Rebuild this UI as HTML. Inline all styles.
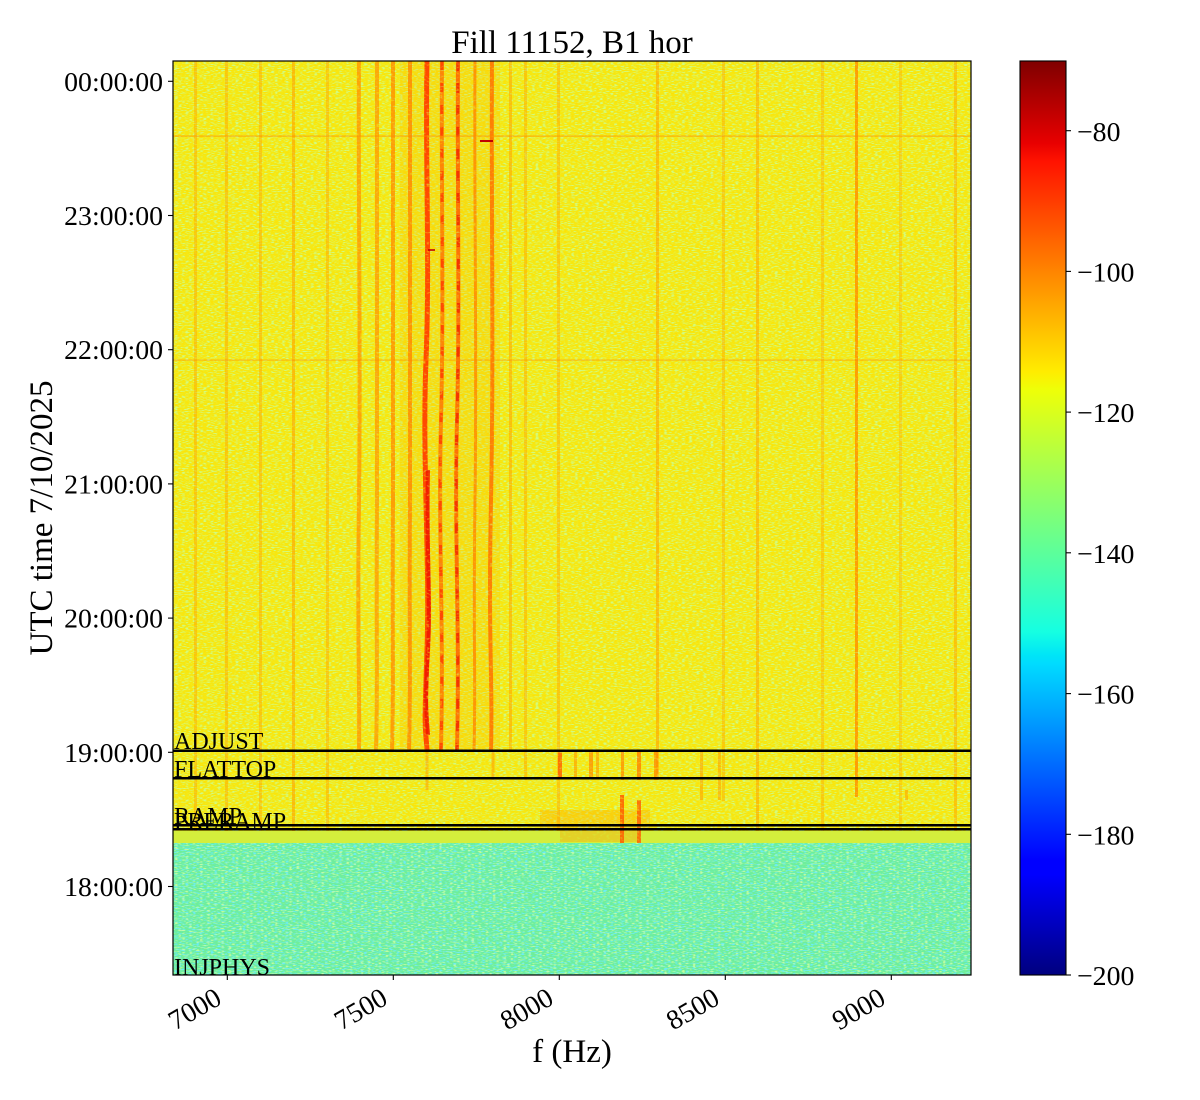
<!DOCTYPE html>
<html>
<head>
<meta charset="utf-8">
<style>
  html, body { margin: 0; padding: 0; background: #ffffff; }
  svg { display: block; }
  text { font-family: "Liberation Serif", "DejaVu Serif", serif; fill: #000; }
</style>
</head>
<body>
<svg width="1200" height="1100" viewBox="0 0 1200 1100" xmlns="http://www.w3.org/2000/svg">
  <defs>
    <clipPath id="plotclip"><rect x="173" y="61" width="798" height="914"/></clipPath>
    <filter id="ng" filterUnits="userSpaceOnUse" x="173" y="61" width="798" height="770">
      <feTurbulence type="fractalNoise" baseFrequency="0.28 0.95" numOctaves="1" seed="3"/>
      <feColorMatrix type="matrix" values="0 0 0 0 0.6  0 0 0 0 1  0 0 0 0 0.3  6 0 0 0 -2.95"/>
    </filter>
    <filter id="no" filterUnits="userSpaceOnUse" x="173" y="61" width="798" height="770">
      <feTurbulence type="fractalNoise" baseFrequency="0.28 0.95" numOctaves="1" seed="11"/>
      <feColorMatrix type="matrix" values="0 0 0 0 1  0 0 0 0 0.75  0 0 0 0 0  6 0 0 0 -3.3"/>
    </filter>
    <filter id="nc" filterUnits="userSpaceOnUse" x="173" y="843" width="798" height="132">
      <feTurbulence type="fractalNoise" baseFrequency="0.28 0.95" numOctaves="1" seed="5"/>
      <feColorMatrix type="matrix" values="0 0 0 0 0.15  0 0 0 0 0.85  0 0 0 0 1  6 0 0 0 -3.0"/>
    </filter>
    <filter id="nl" filterUnits="userSpaceOnUse" x="173" y="843" width="798" height="132">
      <feTurbulence type="fractalNoise" baseFrequency="0.28 0.95" numOctaves="1" seed="17"/>
      <feColorMatrix type="matrix" values="0 0 0 0 0.62  0 0 0 0 1  0 0 0 0 0.35  6 0 0 0 -3.2"/>
    </filter>
    <filter id="nm" filterUnits="userSpaceOnUse" x="173" y="61" width="798" height="914">
      <feTurbulence type="fractalNoise" baseFrequency="0.3 0.5" numOctaves="1" seed="29"/>
      <feColorMatrix type="matrix" values="0 0 0 0 1  0 0 0 0 1  0 0 0 0 1  2.5 0 0 0 -0.15"/>
    </filter>
    <mask id="stripemask" maskUnits="userSpaceOnUse" x="173" y="61" width="798" height="914">
      <rect x="173" y="61" width="798" height="914" filter="url(#nm)"/>
    </mask>
    <linearGradient id="jet" x1="0" y1="1" x2="0" y2="0">
      <stop offset="0" stop-color="#00007f"/>
      <stop offset="0.11" stop-color="#0000ff"/>
      <stop offset="0.125" stop-color="#0000ff"/>
      <stop offset="0.34" stop-color="#00dbff"/>
      <stop offset="0.35" stop-color="#00e5f7"/>
      <stop offset="0.375" stop-color="#15ffe2"/>
      <stop offset="0.64" stop-color="#eeff08"/>
      <stop offset="0.66" stop-color="#ffec00"/>
      <stop offset="0.89" stop-color="#ff1300"/>
      <stop offset="0.91" stop-color="#e80000"/>
      <stop offset="1" stop-color="#7f0000"/>
    </linearGradient>
  </defs>

  <!-- Title -->
  <text x="572" y="53" font-size="33" text-anchor="middle">Fill 11152, B1 hor</text>

  <!-- Spectrogram -->
  <g clip-path="url(#plotclip)">
    <rect x="173" y="61" width="798" height="782" fill="#f6e812"/>
    <rect x="173" y="831" width="798" height="12" fill="#d4ee3c"/>
    <rect x="173" y="843" width="798" height="132" fill="#6eee9c"/>

    <!-- noise -->
    <rect x="173" y="61" width="798" height="770" filter="url(#ng)" opacity="0.85"/>
    <rect x="173" y="61" width="798" height="770" filter="url(#no)" opacity="0.8"/>
    <rect x="173" y="843" width="798" height="132" filter="url(#nc)" opacity="0.9"/>
    <rect x="173" y="843" width="798" height="132" filter="url(#nl)" opacity="0.85"/>

    <!-- orange haze in 7500-7800 band -->
    <rect x="400" y="61" width="100" height="689" fill="#ff9a00" opacity="0.14"/>

    <g mask="url(#stripemask)">
    <!-- faint stripes full height -->
    <g fill="#ffa000">
      <rect x="194" y="61" width="3" height="770" opacity="0.45"/>
      <rect x="225" y="61" width="3" height="770" opacity="0.45"/>
      <rect x="259" y="61" width="3" height="770" opacity="0.45"/>
      <rect x="292" y="61" width="3" height="770" opacity="0.6"/>
      <rect x="326" y="61" width="3" height="770" opacity="0.45"/>
      <rect x="509" y="61" width="3" height="689" opacity="0.55"/>
      <rect x="524" y="61" width="3" height="719" opacity="0.45"/>
      <rect x="557" y="61" width="3" height="770" opacity="0.45"/>
      <rect x="656" y="61" width="3" height="719" opacity="0.6"/>
      <rect x="722" y="61" width="3" height="740" opacity="0.4"/>
      <rect x="756" y="61" width="3" height="770" opacity="0.55"/>
      <rect x="821" y="61" width="3" height="770" opacity="0.4"/>
      <rect x="855" y="61" width="3" height="736" opacity="0.85" fill="#ff9000"/>
      <rect x="899" y="61" width="3" height="770" opacity="0.35"/>
      <rect x="954" y="61" width="3" height="770" opacity="0.5"/>
    </g>

    <!-- main stripe cluster -->
    <g fill="none" stroke-linecap="butt">
      <path d="M359,61 C358,200 361,350 359,500 S360,680 359,750" stroke="#ff9000" stroke-width="4" opacity="0.75"/>
      <path d="M377,61 C376,200 378,350 377,500 S378,680 376,750" stroke="#ff9000" stroke-width="4" opacity="0.7"/>
      <path d="M393,61 C392,200 394,350 393,500 S394,680 392,750" stroke="#ff8c00" stroke-width="4" opacity="0.8"/>
      <path d="M410,61 C409,200 411,350 410,500 S411,680 409,750" stroke="#ff8400" stroke-width="4" opacity="0.8"/>
      <path d="M427,61 C425,160 430,260 426,360 S430,560 427,650 S425,720 427,750" stroke="#ff4a00" stroke-width="5"/>
      <path d="M428,470 C426,540 431,600 428,650 S426,710 428,735" stroke="#f01a00" stroke-width="4" opacity="0.9"/>
      <path d="M442,61 C441,180 444,300 441,420 S444,620 441,750" stroke="#ff7000" stroke-width="4" opacity="0.8"/>
      <path d="M442,61 C441,180 444,300 441,420 S444,620 441,750" stroke="#ff3a00" stroke-width="3" stroke-dasharray="9 13" opacity="0.8"/>
      <path d="M458,61 C457,180 460,300 457,420 S460,620 457,750" stroke="#ff6000" stroke-width="4" opacity="0.85"/>
      <path d="M458,61 C457,180 460,300 457,420 S460,620 457,750" stroke="#f02800" stroke-width="3" stroke-dasharray="10 12" opacity="0.8"/>
      <path d="M475,61 C474,200 477,350 475,500 S476,680 474,750" stroke="#ff8400" stroke-width="3" opacity="0.8"/>
      <path d="M492,61 C491,200 494,350 491,500 S493,680 491,750" stroke="#ff7000" stroke-width="4" opacity="0.85"/>
      <line x1="427" y1="750" x2="427" y2="790" stroke="#ff9a00" stroke-width="3" opacity="0.55"/>
      <line x1="493" y1="750" x2="493" y2="780" stroke="#ff9a00" stroke-width="3" opacity="0.55"/>
    </g>

    <!-- event region features -->
    <g>
      <rect x="558" y="752" width="4" height="26" fill="#ff6400" opacity="0.85"/>
      <rect x="574" y="752" width="3" height="26" fill="#ff9a00" opacity="0.6"/>
      <rect x="589" y="752" width="4" height="26" fill="#ff8c00" opacity="0.75"/>
      <rect x="596" y="752" width="3" height="26" fill="#ff9a00" opacity="0.6"/>
      <rect x="621" y="752" width="3" height="28" fill="#ff8c00" opacity="0.75"/>
      <rect x="637" y="752" width="4" height="28" fill="#ff7e00" opacity="0.8"/>
      <rect x="654" y="752" width="4" height="28" fill="#ff8c00" opacity="0.8"/>
      <rect x="700" y="752" width="3" height="48" fill="#ff9a00" opacity="0.55"/>
      <rect x="718" y="752" width="3" height="48" fill="#ff9a00" opacity="0.55"/>
      <rect x="905" y="790" width="3" height="10" fill="#ff9a00" opacity="0.55"/>
      <rect x="540" y="810" width="110" height="20" fill="#ff9a00" opacity="0.3"/>
      <rect x="560" y="830" width="80" height="12" fill="#ff9a00" opacity="0.35"/>
      <rect x="620" y="795" width="4" height="48" fill="#ff5a00" opacity="0.85"/>
      <rect x="637" y="800" width="4" height="43" fill="#ff5a00" opacity="0.8"/>
    </g>
    </g>

    <!-- horizontal faint lines -->
    <rect x="173" y="135.5" width="798" height="1.2" fill="#ff8c00" opacity="0.6"/>
    <rect x="173" y="359.5" width="798" height="1.2" fill="#ff8c00" opacity="0.5"/>
    <rect x="480" y="140" width="13" height="2" fill="#c00000"/>
    <rect x="428" y="249" width="7" height="2" fill="#c00000" opacity="0.8"/>

    <!-- event lines -->
    <g fill="#000">
      <rect x="173" y="749.5" width="798" height="2.5"/>
      <rect x="173" y="777" width="798" height="2.5"/>
      <rect x="173" y="824" width="798" height="2.5"/>
      <rect x="173" y="828" width="798" height="2.5"/>
    </g>
  </g>

  <!-- event labels -->
  <g font-size="24">
    <text x="174" y="749">ADJUST</text>
    <text x="174" y="777">FLATTOP</text>
    <text x="174" y="824">RAMP</text>
    <text x="174" y="829">PRERAMP</text>
    <text x="174" y="975">INJPHYS</text>
  </g>

  <!-- plot frame -->
  <rect x="173" y="61" width="798" height="914" fill="none" stroke="#000" stroke-width="1.2"/>

  <!-- Y ticks -->
  <g stroke="#000" stroke-width="1.1">
    <line x1="168" y1="81.3" x2="173" y2="81.3"/>
    <line x1="168" y1="215.5" x2="173" y2="215.5"/>
    <line x1="168" y1="349.7" x2="173" y2="349.7"/>
    <line x1="168" y1="483.9" x2="173" y2="483.9"/>
    <line x1="168" y1="618.1" x2="173" y2="618.1"/>
    <line x1="168" y1="752.3" x2="173" y2="752.3"/>
    <line x1="168" y1="886.5" x2="173" y2="886.5"/>
  </g>
  <g font-size="27.8" text-anchor="end">
    <text x="163" y="91">00:00:00</text>
    <text x="163" y="225">23:00:00</text>
    <text x="163" y="359">22:00:00</text>
    <text x="163" y="493.5">21:00:00</text>
    <text x="163" y="627.5">20:00:00</text>
    <text x="163" y="762">19:00:00</text>
    <text x="163" y="896">18:00:00</text>
  </g>

  <!-- X ticks -->
  <g stroke="#000" stroke-width="1.1">
    <line x1="227.3" y1="975" x2="227.3" y2="980"/>
    <line x1="393.3" y1="975" x2="393.3" y2="980"/>
    <line x1="559.3" y1="975" x2="559.3" y2="980"/>
    <line x1="725.3" y1="975" x2="725.3" y2="980"/>
    <line x1="891.3" y1="975" x2="891.3" y2="980"/>
  </g>
  <g font-size="27.8" text-anchor="end">
    <text transform="translate(223.3,1003) rotate(-30)">7000</text>
    <text transform="translate(389.3,1003) rotate(-30)">7500</text>
    <text transform="translate(555.3,1003) rotate(-30)">8000</text>
    <text transform="translate(721.3,1003) rotate(-30)">8500</text>
    <text transform="translate(887.3,1003) rotate(-30)">9000</text>
  </g>

  <!-- Axis labels -->
  <text x="572" y="1062" font-size="33" text-anchor="middle">f (Hz)</text>
  <text transform="translate(52,518) rotate(-90)" font-size="33" text-anchor="middle">UTC time 7/10/2025</text>

  <!-- Colorbar -->
  <rect x="1020" y="61" width="46" height="914" fill="url(#jet)" stroke="#000" stroke-width="1.1"/>
  <g stroke="#000" stroke-width="1.1">
    <line x1="1066" y1="130.7" x2="1071" y2="130.7"/>
    <line x1="1066" y1="271.4" x2="1071" y2="271.4"/>
    <line x1="1066" y1="412.1" x2="1071" y2="412.1"/>
    <line x1="1066" y1="552.8" x2="1071" y2="552.8"/>
    <line x1="1066" y1="693.6" x2="1071" y2="693.6"/>
    <line x1="1066" y1="834.3" x2="1071" y2="834.3"/>
    <line x1="1066" y1="975" x2="1071" y2="975"/>
  </g>
  <g font-size="27.8">
    <text x="1077" y="141">−80</text>
    <text x="1077" y="281.5">−100</text>
    <text x="1077" y="422">−120</text>
    <text x="1077" y="563">−140</text>
    <text x="1077" y="703.5">−160</text>
    <text x="1077" y="844.5">−180</text>
    <text x="1077" y="985">−200</text>
  </g>
</svg>
</body>
</html>
